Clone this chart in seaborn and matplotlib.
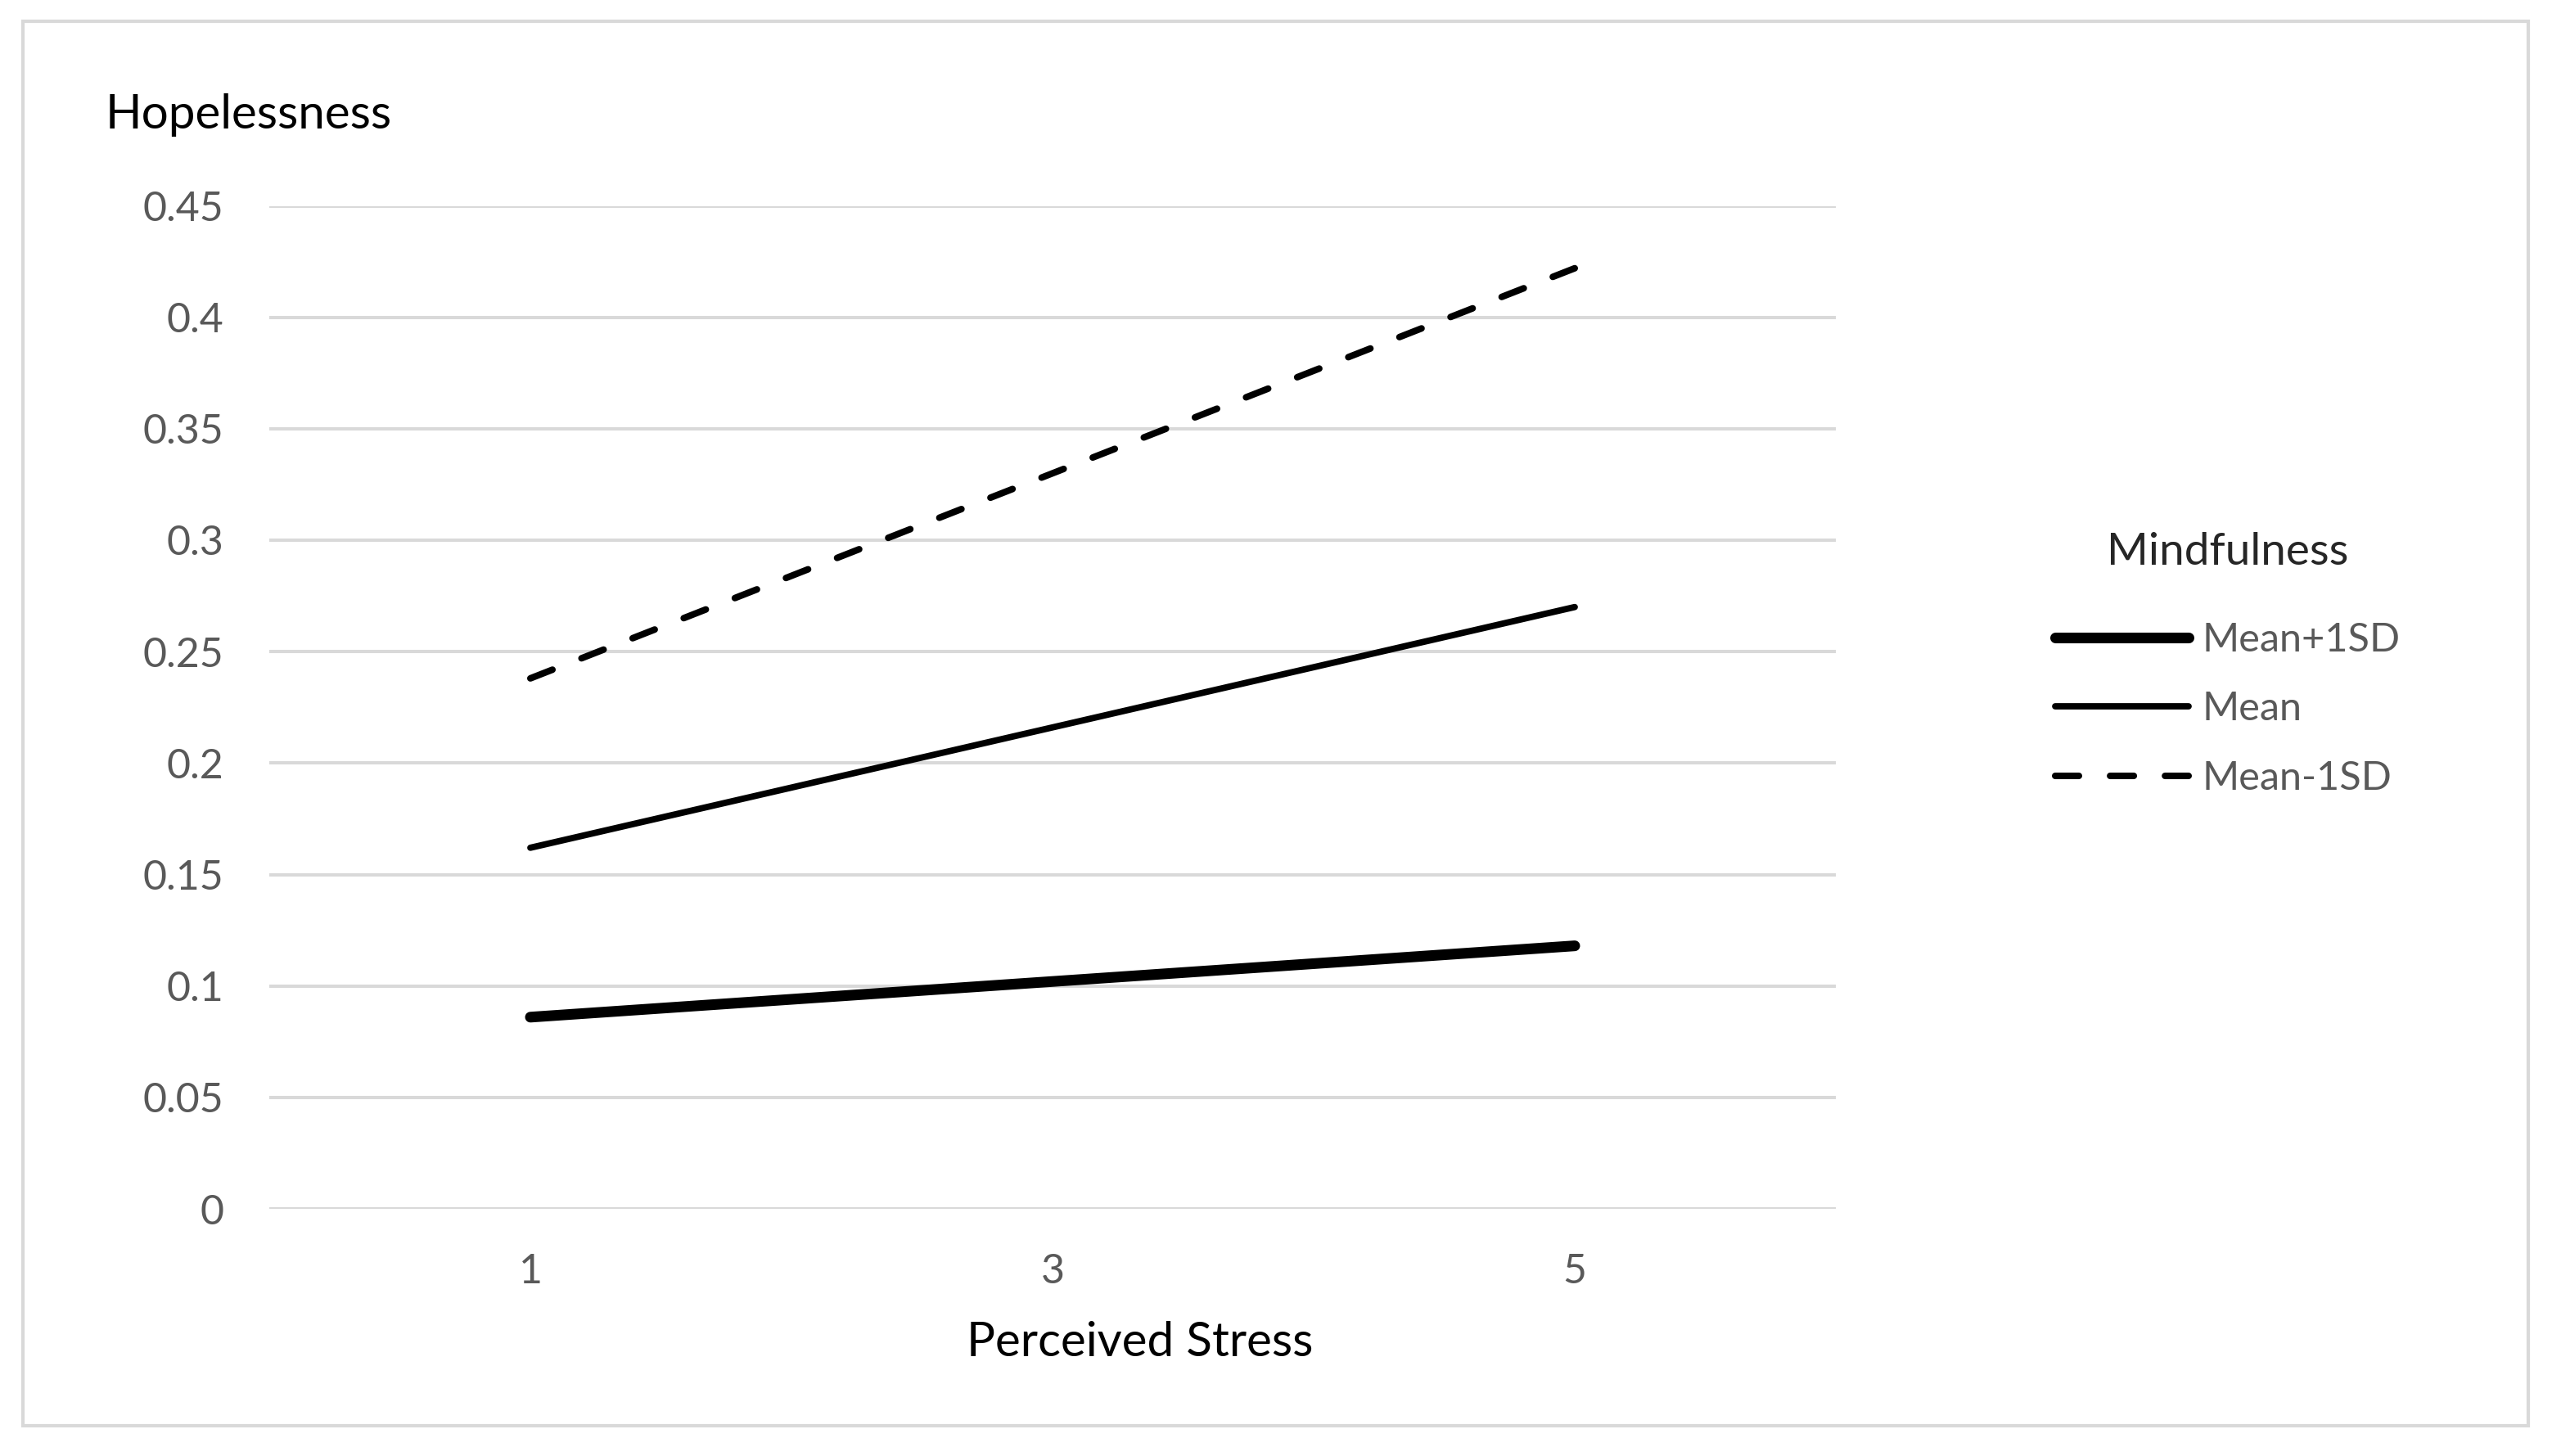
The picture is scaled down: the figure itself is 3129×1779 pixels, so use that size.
import numpy as np
import pandas as pd
import matplotlib
matplotlib.use("Agg")
import matplotlib.pyplot as plt
from matplotlib.patches import Rectangle
import seaborn as sns

# ---- data ----
stress_levels = [1, 3, 5]
groups = ["Mean+1SD", "Mean", "Mean-1SD"]
hope_plus1sd = [0.086, 0.102, 0.118]
hope_mean = [0.162, 0.216, 0.270]
hope_minus1sd = [0.238, 0.330, 0.422]
y_ticks = [0, 0.05, 0.1, 0.15, 0.2, 0.25, 0.3, 0.35, 0.4, 0.45]
y_tick_labels = ["0", "0.05", "0.1", "0.15", "0.2", "0.25", "0.3", "0.35", "0.4", "0.45"]

series = {"Mean+1SD": hope_plus1sd, "Mean": hope_mean, "Mean-1SD": hope_minus1sd}
df = pd.concat(
    [pd.DataFrame({"stress": stress_levels, "hope": v, "group": g}) for g, v in series.items()],
    ignore_index=True,
)

sns.set_theme(style="white")
plt.rcParams["font.family"] = ["Lato", "DejaVu Sans"]

W, H = 3129, 1779
DPI = 100
fig = plt.figure(figsize=(W / DPI, H / DPI), dpi=DPI)
fig.patch.set_facecolor("white")

# outer light border
fig.patches.append(Rectangle((28 / W, 1 - 1742 / H), (3089 - 28) / W, (1742 - 26) / H,
                             transform=fig.transFigure, fill=False,
                             edgecolor="#d9d9d9", linewidth=3, zorder=0))

ax = fig.add_axes([329 / W, 1 - 1477 / H, (2243 - 329) / W, (1477 - 251.5) / H])

styles = {
    "Mean+1SD": dict(linewidth=9.4, linestyle="-"),
    "Mean": dict(linewidth=5.6, linestyle="-"),
    "Mean-1SD": dict(linewidth=5.8, linestyle=(0, (3.6, 4.73))),
}
for g in groups:
    sub = df[df["group"] == g]
    sns.lineplot(data=sub, x="stress", y="hope", ax=ax, color="black",
                 label=g, solid_capstyle="round", dash_capstyle="round",
                 **styles[g])

ax.set_xlim(0, 6)
ax.set_ylim(0, 0.45)
ax.set_xticks(stress_levels)
ax.set_xticklabels([str(s) for s in stress_levels])
ax.set_yticks(y_ticks)
ax.set_yticklabels(y_tick_labels)
ax.yaxis.grid(True, color="#d9d9d9", linewidth=2.9)
ax.xaxis.grid(False)
for s in ax.spines.values():
    s.set_visible(False)
ax.tick_params(axis="y", length=0, pad=40, labelsize=36, labelcolor="#595959")
ax.tick_params(axis="x", length=0, pad=39, labelsize=36, labelcolor="#595959")
ax.set_xlabel("")
ax.set_ylabel("")
ax.set_axisbelow(True)

fig.text(129 / W, 1 - 157 / H, "Hopelessness", fontsize=42, color="black",
         ha="left", va="baseline")
fig.text(1393 / W, 1 - 1657 / H, "Perceived Stress", fontsize=42, color="black",
         ha="center", va="baseline")

leg = ax.legend(title="Mindfulness", loc="upper left",
                bbox_to_anchor=(2511 / W, 1 - 650 / H), bbox_transform=fig.transFigure,
                frameon=False, fontsize=35, title_fontsize=39.5,
                handlelength=3.35, handletextpad=0.35, labelspacing=0.83,
                borderpad=0, borderaxespad=0)
leg._legend_box.sep = 44
for t in leg.get_texts():
    t.set_color("#595959")

fig.savefig("out.png", dpi=DPI, facecolor="white")
